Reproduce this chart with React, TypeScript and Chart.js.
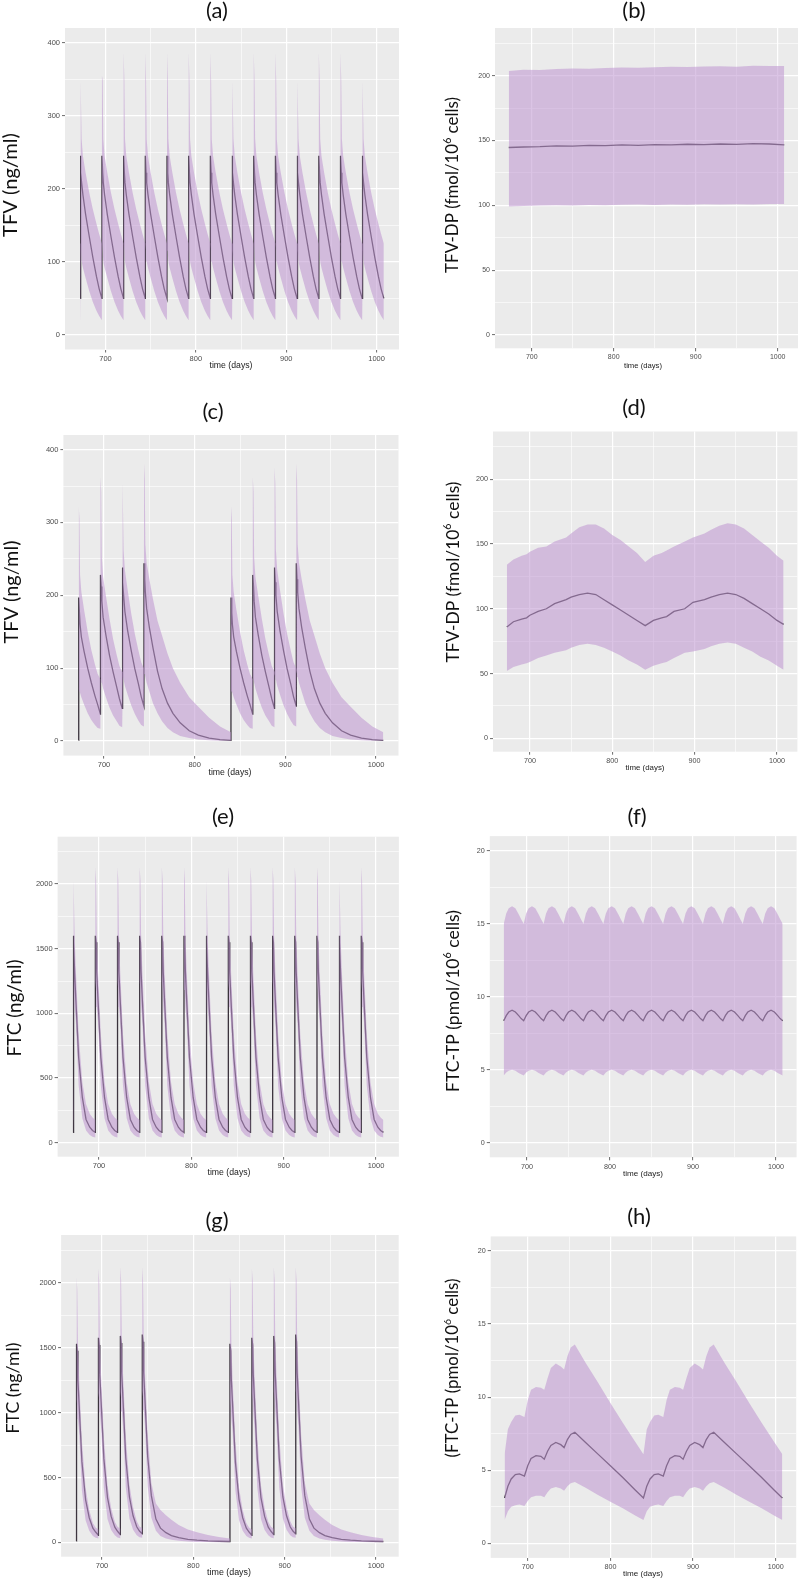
import React, { useEffect, useRef } from "react";
import { Chart, registerables } from "chart.js";

Chart.register(...registerables);

// ---------------- axis values ----------------
const X_TICKS = [700, 750, 800, 850, 900, 950, 1000];
const X_MIN = 655.2;
const X_MAX = 1024.8;
const TFV_TICKS = [0, 50, 100, 150, 200, 250, 300, 350, 400];
const TFVDP_TICKS = [0, 25, 50, 75, 100, 125, 150, 175, 200, 225];
const FTC_TICKS = [0, 250, 500, 750, 1000, 1250, 1500, 1750, 2000, 2250];
const FTCTP_TICKS = [0, 2.5, 5, 7.5, 10, 12.5, 15, 17.5, 20];

// ---------------- dosing schedule ----------------
const DOSES_14 = [672, 696, 720, 744, 768, 792, 816, 840, 864, 888, 912, 936, 960, 984];
const END_DAY = 1008;
const CYCLE_OFFSETS = [0, 0.1, 0.9, 1.6, 3, 6, 10, 14, 18, 21];
const TAIL_OFFSETS = [0, 0.1, 0.9, 1.6, 3, 6, 10, 15, 20, 26, 32, 40, 50, 60, 72, 84, 96];
const BLOCK_DOSES = [672, 696, 720, 744];
const BLOCK_SHIFT = 168;

// ---------------- (a) TFV, continuous ----------------
const A_MID = [50, 245, 222, 208, 192, 165, 135, 106, 80, 63];
const A_LOW = [20, 130, 115, 100, 92, 78, 60, 45, 33, 26];
const A_HIGH = [125, 386, 348, 268, 245, 222, 195, 172, 152, 138];
const A_PEAK_HIGH = [386, 355, 386, 386, 386, 386, 386, 386, 386, 386, 355, 386, 386, 355];
const A_END = [50, 20, 125];

// ---------------- (b) TFV-DP, continuous ----------------
const B_TIMES = [672, 690, 710, 730, 750, 770, 790, 810, 830, 850, 870, 890, 910, 930, 950, 970, 990, 1008];
const B_MID = [144.6, 145.0, 145.3, 145.9, 145.6, 146.2, 146.0, 146.6, 146.3, 146.9, 146.6, 147.1, 146.8, 147.3, 147.0, 147.6, 147.3, 146.6];
const B_HIGH = [203.6, 204.6, 204.4, 205.1, 205.6, 205.4, 206.0, 206.3, 206.1, 206.6, 206.9, 206.7, 207.1, 207.3, 207.0, 207.6, 207.4, 207.5];
const B_LOW = [99.0, 99.5, 99.8, 100.1, 99.9, 100.2, 100.0, 100.4, 100.6, 100.3, 100.7, 100.5, 100.8, 100.6, 100.9, 100.7, 101.0, 101.0];

// ---------------- (c) TFV, intermittent ----------------
const C_MID = [
  [1, 197, 176, 160, 143, 123, 100, 80, 62, 50],
  [37, 228, 212, 192, 170, 146, 118, 95, 74, 58],
  [45, 238, 218, 200, 178, 152, 124, 99, 78, 61],
  [48, 244, 222, 204, 182, 156, 128, 96, 72, 52, 38, 25, 14, 8, 4, 2, 1],
];
const C_HIGH = [
  [3, 322, 305, 228, 205, 180, 150, 125, 105, 92],
  [85, 362, 342, 252, 225, 200, 168, 140, 118, 103],
  [95, 375, 354, 262, 235, 208, 175, 147, 124, 108],
  [100, 381, 360, 270, 245, 222, 195, 165, 145, 120, 100, 80, 60, 47, 32, 20, 12],
];
const C_LOW = [
  [0, 70, 68, 66, 60, 50, 38, 29, 22, 18],
  [17, 88, 84, 80, 72, 60, 46, 35, 27, 21],
  [19, 92, 88, 84, 76, 64, 49, 37, 28, 22],
  [20, 96, 92, 88, 80, 68, 52, 38, 27, 18, 12, 7, 4, 2, 1, 0.5, 0.3],
];

// ---------------- (d) TFV-DP, intermittent ----------------
const D_TIMES = [672, 680, 690, 696, 700, 710, 720, 730, 744, 750, 760, 770, 780, 790, 800, 810, 820, 830, 840, 850, 860, 866, 875, 888, 898, 912, 920, 930, 940, 950, 960, 970, 980, 990, 1000, 1008];
const D_MID = [86, 90, 92, 93, 95, 98, 100, 104, 107, 109, 111, 112, 111, 107, 103, 99, 95, 91, 87, 91, 93, 94, 98, 100, 105, 107, 109, 111, 112, 111, 108, 104, 100, 96, 91, 88];
const D_HIGH = [134, 138, 141, 142, 144, 147, 148, 152, 155, 158, 163, 165, 165, 162, 157, 153, 148, 143, 136, 141, 143, 145, 148, 152, 155, 158, 161, 164, 166, 165, 162, 157, 152, 147, 141, 137];
const D_LOW = [52, 55, 57, 58, 59, 62, 64, 66, 68, 70, 72, 73, 72, 70, 67, 64, 60, 57, 53, 56, 58, 59, 62, 66, 67, 69, 71, 73, 74, 73, 70, 67, 63, 60, 56, 53];

// ---------------- (e) FTC, continuous ----------------
const E_MID = [80, 1600, 1550, 1320, 1100, 660, 350, 180, 120, 95];
const E_LOW = [40, 1250, 1180, 1050, 930, 440, 190, 95, 60, 47];
const E_HIGH = [175, 2130, 2030, 1620, 1330, 840, 470, 300, 225, 195];
const E_END = [80, 40, 175];

// ---------------- (f) FTC-TP, continuous ----------------
const F_OFFSETS = [0, 3, 6, 10, 14, 18, 21];
const F_MID = [8.35, 8.7, 8.95, 9.08, 8.95, 8.7, 8.5];
const F_LOW = [4.6, 4.8, 4.93, 5.0, 4.93, 4.78, 4.68];
const F_HIGH = [15.0, 15.7, 16.05, 16.2, 16.05, 15.65, 15.3];
const F_END = [8.35, 4.6, 15.0];

// ---------------- (g) FTC, intermittent ----------------
const G_MID = [
  [10, 1530, 1475, 1250, 1050, 620, 330, 190, 110, 80],
  [55, 1575, 1520, 1290, 1085, 645, 345, 200, 118, 86],
  [60, 1590, 1535, 1300, 1095, 650, 350, 205, 120, 88],
  [65, 1600, 1545, 1310, 1100, 660, 360, 180, 110, 75, 52, 36, 24, 17, 12, 9, 7],
];
const G_HIGH = [
  [15, 2040, 1950, 1540, 1250, 780, 420, 250, 150, 115],
  [100, 2110, 2010, 1580, 1290, 810, 440, 265, 160, 120],
  [105, 2120, 2020, 1590, 1300, 820, 445, 270, 165, 122],
  [110, 2120, 2020, 1600, 1310, 830, 460, 300, 250, 210, 175, 135, 100, 78, 58, 42, 30],
];
const G_LOW = [
  [5, 1100, 1050, 950, 850, 400, 170, 90, 50, 35],
  [30, 1150, 1100, 1000, 880, 420, 180, 95, 55, 38],
  [32, 1160, 1110, 1010, 890, 425, 185, 98, 56, 40],
  [35, 1170, 1120, 1020, 900, 430, 190, 90, 50, 30, 20, 12, 7, 4, 3, 2, 1],
];

// ---------------- (h) FTC-TP, intermittent ----------------
const H_TIMES = [672, 676, 680, 685, 690, 696, 700, 704, 710, 716, 720, 724, 728, 734, 740, 744, 748, 752, 757, 770, 785, 800, 815, 830, 840];
const H_MID = [3.1, 3.9, 4.4, 4.7, 4.75, 4.6, 5.3, 5.8, 6.0, 5.95, 5.75, 6.3, 6.7, 6.9, 6.75, 6.55, 7.1, 7.45, 7.6, 6.9, 6.1, 5.3, 4.5, 3.65, 3.1];
const H_HIGH = [6.1, 7.8, 8.3, 8.75, 8.8, 8.65, 9.8, 10.5, 10.7, 10.65, 10.5, 11.3, 12.0, 12.3, 12.1, 11.9, 12.8, 13.4, 13.6, 12.35, 11.0, 9.6, 8.25, 6.95, 6.1];
const H_LOW = [1.6, 2.2, 2.5, 2.6, 2.65, 2.55, 2.9, 3.15, 3.25, 3.25, 3.15, 3.5, 3.75, 3.85, 3.75, 3.6, 3.9, 4.1, 4.2, 3.8, 3.3, 2.85, 2.4, 1.9, 1.6];

// ---------------- text ----------------
const PANEL_TITLES = ["(a)", "(b)", "(c)", "(d)", "(e)", "(f)", "(g)", "(h)"];
const X_TITLE = "time (days)";
const Y_TFV = [{ t: "TFV (ng/ml)" }];
const Y_TFVDP = [{ t: "TFV-DP (fmol/10" }, { t: "6", sup: true }, { t: " cells)" }];
const Y_FTC = [{ t: "FTC (ng/ml)" }];
const Y_FTCTP_F = [{ t: "FTC-TP (pmol/10" }, { t: "6", sup: true }, { t: " cells)" }];
const Y_FTCTP_H = [{ t: "(FTC-TP (pmol/10" }, { t: "6", sup: true }, { t: " cells)" }];

// ---------------- styles ----------------
const BAND_FILL = "rgba(190,150,208,0.56)";
const MEDIAN_COLOR = "#3a333c";
const PANEL_BG = "#EBEBEB";

type Band = { x: number[]; mid: number[]; low: number[]; high: number[] };

function buildPeriodic(doses: number[], offsets: number[], mid: number[], low: number[], high: number[], peaks: number[] | null, endVals: number[]): Band {
  const b: Band = { x: [], mid: [], low: [], high: [] };
  doses.forEach((d, k) => {
    offsets.forEach((o, i) => {
      b.x.push(d + o);
      b.mid.push(mid[i]);
      b.low.push(low[i]);
      b.high.push(i === 1 && peaks ? peaks[k] : high[i]);
    });
  });
  b.x.push(END_DAY);
  b.mid.push(endVals[0]);
  b.low.push(endVals[1]);
  b.high.push(endVals[2]);
  return b;
}

function buildBlocks(mid: number[][], low: number[][], high: number[][]): Band {
  const b: Band = { x: [], mid: [], low: [], high: [] };
  for (let blk = 0; blk < 2; blk++) {
    BLOCK_DOSES.forEach((d, k) => {
      const offs = k === BLOCK_DOSES.length - 1 ? TAIL_OFFSETS : CYCLE_OFFSETS;
      offs.forEach((o, i) => {
        b.x.push(blk * BLOCK_SHIFT + d + o);
        b.mid.push(mid[k][i]);
        b.low.push(low[k][i]);
        b.high.push(high[k][i]);
      });
    });
  }
  return b;
}

function buildShifted(times: number[], mid: number[], low: number[], high: number[]): Band {
  const b: Band = { x: [], mid: [], low: [], high: [] };
  for (let blk = 0; blk < 2; blk++) {
    times.forEach((t, i) => {
      b.x.push(t + blk * BLOCK_SHIFT);
      b.mid.push(mid[i]);
      b.low.push(low[i]);
      b.high.push(high[i]);
    });
  }
  return b;
}

const BAND_A = buildPeriodic(DOSES_14, CYCLE_OFFSETS, A_MID, A_LOW, A_HIGH, A_PEAK_HIGH, A_END);
const BAND_B: Band = { x: B_TIMES, mid: B_MID, low: B_LOW, high: B_HIGH };
const BAND_C = buildBlocks(C_MID, C_LOW, C_HIGH);
const BAND_D: Band = { x: D_TIMES, mid: D_MID, low: D_LOW, high: D_HIGH };
const BAND_E = buildPeriodic(DOSES_14, CYCLE_OFFSETS, E_MID, E_LOW, E_HIGH, null, E_END);
const BAND_F = buildPeriodic(DOSES_14, F_OFFSETS, F_MID, F_LOW, F_HIGH, null, F_END);
const BAND_G = buildBlocks(G_MID, G_LOW, G_HIGH);
const BAND_H = buildShifted(H_TIMES, H_MID, H_LOW, H_HIGH);

type Seg = { t: string; sup?: boolean };
interface PanelCfg {
  cell: number[];
  area: number[];
  yMin: number;
  yMax: number;
  yTicks: number[];
  yMajor: number;
  band: Band;
  title: string;
  titlePos: number[];
  yTitle: Seg[];
  yTitlePos: number[];
  yTitleLen: number;
  xTitlePos: number[];
  xTitleLen: number;
  tickSize: number;
}

const PANELS: PanelCfg[] = [
  { cell: [0, 0, 400, 392], area: [65, 28, 399, 349.5], yMin: -20, yMax: 420, yTicks: TFV_TICKS, yMajor: 100, band: BAND_A,
    title: PANEL_TITLES[0], titlePos: [217, 11], yTitle: Y_TFV, yTitlePos: [11, 185], yTitleLen: 104, xTitlePos: [231, 366], xTitleLen: 43, tickSize: 7.5 },
  { cell: [400, 0, 400, 392], area: [495, 28, 798, 348.3], yMin: -10.3, yMax: 236.8, yTicks: TFVDP_TICKS, yMajor: 50, band: BAND_B,
    title: PANEL_TITLES[1], titlePos: [634, 11], yTitle: Y_TFVDP, yTitlePos: [453, 185], yTitleLen: 176, xTitlePos: [643, 366], xTitleLen: 38, tickSize: 7 },
  { cell: [0, 392, 400, 400], area: [63.4, 435, 398.5, 755.6], yMin: -20, yMax: 420, yTicks: TFV_TICKS, yMajor: 100, band: BAND_C,
    title: PANEL_TITLES[2], titlePos: [213, 412], yTitle: Y_TFV, yTitlePos: [12, 592], yTitleLen: 103, xTitlePos: [230, 773], xTitleLen: 43, tickSize: 7.5 },
  { cell: [400, 392, 400, 400], area: [493, 431.5, 797.4, 751.7], yMin: -10.3, yMax: 236.8, yTicks: TFVDP_TICKS, yMajor: 50, band: BAND_D,
    title: PANEL_TITLES[3], titlePos: [634, 408], yTitle: Y_TFVDP, yTitlePos: [453, 572], yTitleLen: 181, xTitlePos: [645, 768], xTitleLen: 39, tickSize: 7.2 },
  { cell: [0, 792, 400, 400], area: [57.6, 836.7, 398.9, 1156.7], yMin: -108, yMax: 2366, yTicks: FTC_TICKS, yMajor: 500, band: BAND_E,
    title: PANEL_TITLES[4], titlePos: [223, 817], yTitle: Y_FTC, yTitlePos: [14.5, 1008], yTitleLen: 97, xTitlePos: [229, 1173], xTitleLen: 43, tickSize: 7.5 },
  { cell: [400, 792, 400, 400], area: [489.8, 836.1, 796.6, 1157.3], yMin: -1, yMax: 21, yTicks: FTCTP_TICKS, yMajor: 5, band: BAND_F,
    title: PANEL_TITLES[5], titlePos: [637, 817], yTitle: Y_FTCTP_F, yTitlePos: [453, 1001], yTitleLen: 182, xTitlePos: [643, 1174], xTitleLen: 40, tickSize: 7.2 },
  { cell: [0, 1192, 400, 387], area: [61.1, 1235, 398.7, 1556.7], yMin: -110, yMax: 2367, yTicks: FTC_TICKS, yMajor: 500, band: BAND_G,
    title: PANEL_TITLES[6], titlePos: [217, 1221], yTitle: Y_FTC, yTitlePos: [13.5, 1388], yTitleLen: 91, xTitlePos: [229, 1573], xTitleLen: 44, tickSize: 7.5 },
  { cell: [400, 1192, 400, 387], area: [490.7, 1236.4, 796.2, 1557.9], yMin: -1, yMax: 21, yTicks: FTCTP_TICKS, yMajor: 5, band: BAND_H,
    title: PANEL_TITLES[7], titlePos: [639, 1217], yTitle: Y_FTCTP_H, yTitlePos: [453, 1368], yTitleLen: 179, xTitlePos: [643, 1574], xTitleLen: 40, tickSize: 7.2 },
];

const TITLE_FONT = 'Lato, "Open Sans", sans-serif';
const AXIS_FONT = '"Liberation Sans", Arial, sans-serif';

function drawFitted(ctx: CanvasRenderingContext2D, segs: Seg[], len: number, family: string, color: string, x: number, y: number, rot: number) {
  const supScale = 0.62;
  const measure = (size: number) => {
    let w = 0;
    for (const s of segs) {
      ctx.font = `${s.sup ? size * supScale : size}px ${family}`;
      w += ctx.measureText(s.t).width;
    }
    return w;
  };
  const size = (100 * len) / measure(100);
  const total = measure(size);
  ctx.save();
  ctx.translate(x, y);
  ctx.rotate(rot);
  ctx.fillStyle = color;
  ctx.textAlign = "left";
  ctx.textBaseline = "middle";
  let cur = -total / 2;
  for (const s of segs) {
    const fs = s.sup ? size * supScale : size;
    ctx.font = `${fs}px ${family}`;
    ctx.fillText(s.t, cur, s.sup ? -size * 0.3 : 0);
    cur += ctx.measureText(s.t).width;
  }
  ctx.restore();
}

const bgPlugin = {
  id: "panelBg",
  beforeDraw(chart: any) {
    const { ctx, chartArea } = chart;
    if (!chartArea) return;
    ctx.save();
    ctx.fillStyle = PANEL_BG;
    ctx.fillRect(chartArea.left, chartArea.top, chartArea.right - chartArea.left, chartArea.bottom - chartArea.top);
    ctx.restore();
  },
};

const textPlugin = {
  id: "panelText",
  afterDraw(chart: any, _args: any, o: any) {
    const ctx = chart.ctx as CanvasRenderingContext2D;
    ctx.save();
    ctx.fillStyle = "#111";
    ctx.textAlign = "center";
    ctx.textBaseline = "middle";
    ctx.font = `22px ${TITLE_FONT}`;
    ctx.fillText(o.title, o.titleX, o.titleY);
    drawFitted(ctx, [{ t: X_TITLE }], o.xTitleLen, AXIS_FONT, "#222", o.xTitleX, o.xTitleY, 0);
    drawFitted(ctx, o.yTitle, o.yTitleLen, TITLE_FONT, "#111", o.yTitleX, o.yTitleY, -Math.PI / 2);
    ctx.restore();
  },
};

const isMajor = (v: number, m: number) => Math.abs(v / m - Math.round(v / m)) < 1e-9;

function makeConfig(p: PanelCfg): any {
  const [cx, cy, cw, ch] = p.cell;
  const [L, T, R, B] = p.area;
  const pts = (ys: number[]) => p.band.x.map((x, i) => ({ x, y: ys[i] }));
  const tickFont = { family: AXIS_FONT, size: p.tickSize };
  return {
    type: "line",
    data: {
      datasets: [
        { data: pts(p.band.low), borderColor: "rgba(0,0,0,0)", borderWidth: 0, pointRadius: 0, fill: false, tension: 0 },
        { data: pts(p.band.high), borderColor: "rgba(0,0,0,0)", borderWidth: 0, pointRadius: 0, fill: "-1", backgroundColor: BAND_FILL, tension: 0 },
        { data: pts(p.band.mid), borderColor: MEDIAN_COLOR, borderWidth: 1.3, pointRadius: 0, fill: false, tension: 0 },
      ],
    },
    options: {
      animation: false,
      responsive: false,
      devicePixelRatio: 1,
      events: [],
      layout: { padding: { left: 0, top: T - cy, right: cx + cw - R, bottom: 0 } },
      plugins: {
        legend: { display: false },
        tooltip: { enabled: false },
        panelText: {
          title: p.title,
          titleX: p.titlePos[0] - cx,
          titleY: p.titlePos[1] - cy,
          yTitle: p.yTitle,
          yTitleX: p.yTitlePos[0] - cx,
          yTitleY: p.yTitlePos[1] - cy,
          yTitleLen: p.yTitleLen,
          xTitleX: p.xTitlePos[0] - cx,
          xTitleY: p.xTitlePos[1] - cy,
          xTitleLen: p.xTitleLen,
        },
      },
      scales: {
        x: {
          type: "linear",
          min: X_MIN,
          max: X_MAX,
          afterBuildTicks: (s: any) => {
            s.ticks = X_TICKS.map((v) => ({ value: v }));
          },
          afterFit: (s: any) => {
            s.height = cy + ch - B;
          },
          ticks: {
            autoSkip: false,
            maxRotation: 0,
            padding: 2,
            color: "#4D4D4D",
            font: tickFont,
            callback: (v: number) => (isMajor(v, 100) ? String(v) : ""),
          },
          grid: {
            color: "#FFFFFF",
            lineWidth: (c: any) => (c.tick && isMajor(c.tick.value, 100) ? 1.2 : 0.6),
            drawTicks: true,
            tickLength: 3,
            tickWidth: 0.8,
            tickColor: (c: any) => (c.tick && isMajor(c.tick.value, 100) ? "#444" : "rgba(0,0,0,0)"),
          },
          border: { display: false },
        },
        y: {
          type: "linear",
          min: p.yMin,
          max: p.yMax,
          afterBuildTicks: (s: any) => {
            s.ticks = p.yTicks.map((v) => ({ value: v }));
          },
          afterFit: (s: any) => {
            s.width = L - cx;
          },
          ticks: {
            autoSkip: false,
            padding: 2,
            color: "#4D4D4D",
            font: tickFont,
            callback: (v: number) => (isMajor(v, p.yMajor) ? String(v) : ""),
          },
          grid: {
            color: "#FFFFFF",
            lineWidth: (c: any) => (c.tick && isMajor(c.tick.value, p.yMajor) ? 1.2 : 0.6),
            drawTicks: true,
            tickLength: 3,
            tickWidth: 0.8,
            tickColor: (c: any) => (c.tick && isMajor(c.tick.value, p.yMajor) ? "#444" : "rgba(0,0,0,0)"),
          },
          border: { display: false },
        },
      },
    },
    plugins: [bgPlugin, textPlugin],
  };
}

function Panel({ cfg }: { cfg: PanelCfg }) {
  const ref = useRef<HTMLCanvasElement | null>(null);
  useEffect(() => {
    if (!ref.current) return;
    const chart = new Chart(ref.current, makeConfig(cfg));
    return () => chart.destroy();
  }, [cfg]);
  const [cx, cy, cw, ch] = cfg.cell;
  return (
    <canvas
      ref={ref}
      width={cw}
      height={ch}
      style={{ position: "absolute", left: cx, top: cy, width: cw, height: ch, display: "block" }}
    />
  );
}

export default function App() {
  return (
    <div style={{ position: "absolute", left: 0, top: 0, width: 800, height: 1579, background: "#FFFFFF", overflow: "hidden" }}>
      {PANELS.map((p, i) => (
        <Panel key={i} cfg={p} />
      ))}
    </div>
  );
}
